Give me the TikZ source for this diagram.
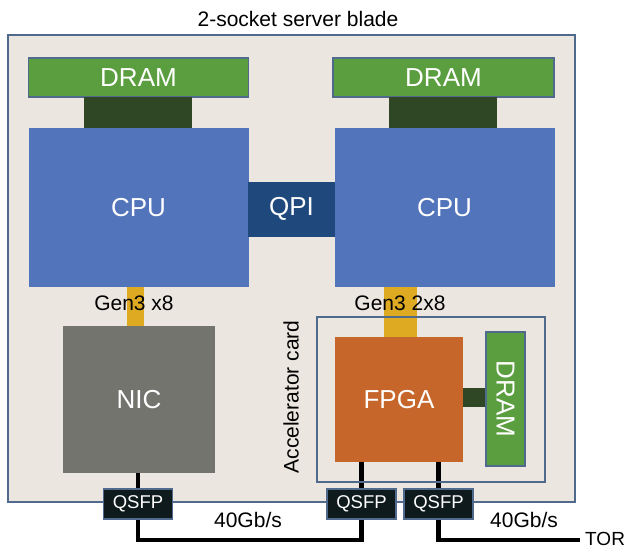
\documentclass[tikz,border=0pt]{standalone}
\usepackage{fontspec}
\setmainfont{Liberation Sans}
\definecolor{bladefill}{HTML}{EBE6DF}
\definecolor{slate}{HTML}{4F6A8C}
\definecolor{dramgreen}{HTML}{5B9E40}
\definecolor{darkgreen}{HTML}{2F4725}
\definecolor{cpublue}{HTML}{5274BB}
\definecolor{qpiblue}{HTML}{1F497D}
\definecolor{pcieyellow}{HTML}{DDAA22}
\definecolor{nicgray}{HTML}{74746F}
\definecolor{fpgaorange}{HTML}{C6662A}
\definecolor{qsfpfill}{HTML}{0E1A1C}
\pgfdeclarelayer{bladelayer}
\pgfdeclarelayer{cablelayer}
\pgfsetlayers{bladelayer,cablelayer,main}
\tikzset{
  blk/.style={inner sep=0pt, outer sep=0pt, text=white},
  big/.style={font=\fontsize{26}{30}\selectfont},
  lbl/.style={font=\fontsize{21}{25}\selectfont, text=black, inner sep=0pt},
  dram/.style={blk, big, fill=dramgreen, draw=slate, line width=1.5pt},
  link/.style={blk, fill=darkgreen},
  pcie/.style={blk, fill=pcieyellow},
  qsfp/.style={blk, fill=qsfpfill, draw=slate, line width=1.5pt, minimum width=69pt, minimum height=30pt, font=\fontsize{18.5}{22}\selectfont},
  cable/.style={line width=4.5pt, black},
}
\begin{document}
\begin{tikzpicture}[x=1pt,y=-1pt]
\useasboundingbox (0,0) rectangle (630,549);
% blade
\begin{pgfonlayer}{bladelayer}
\node[draw=slate, fill=bladefill, line width=2pt, inner sep=0pt, minimum width=567pt, minimum height=467pt] (blade) at (291.5,268) {};
\end{pgfonlayer}
\node[lbl] (title) at (298,19) {2-socket server blade};
% DRAM + links
\node[dram, minimum width=220pt, minimum height=39pt] (draml) at (138.5,77.5) {DRAM};
\node[dram, minimum width=221pt, minimum height=39pt] (dramr) at (443.5,77.5) {DRAM};
\node[link, minimum width=108pt, minimum height=31pt] (linkl) at (138,112.5) {};
\node[link, minimum width=108pt, minimum height=31pt] (linkr) at (443,112.5) {};
% CPUs
\node[blk, big, fill=cpublue, minimum width=220pt, minimum height=159pt] (cpul) at (138.5,207.5) {CPU};
\node[blk, big, fill=cpublue, minimum width=220pt, minimum height=159pt] (cpur) at (444.5,207.5) {CPU};
\node[blk, big, fill=qpiblue, minimum width=87pt, minimum height=55pt] (qpi) at (291.5,209) {QPI};
% PCIe
\node[pcie, minimum width=17pt, minimum height=39pt] (pciel) at (135.5,306.5) {};
\node[pcie, minimum width=33pt, minimum height=50pt] (pcier) at (400.5,312) {};
\node[lbl] (gen3l) at (134,303) {Gen3 x8};
\node[lbl] (gen3r) at (400,303) {Gen3 2x8};
% NIC
\node[blk, big, fill=nicgray, minimum width=152pt, minimum height=147pt] (nic) at (139,399.5) {NIC};
% accelerator card
\node[draw=slate, line width=2pt, inner sep=0pt, minimum width=228pt, minimum height=165pt] (acc) at (431,399.5) {};
\node[lbl, rotate=90] (acclbl) at (291,397) {Accelerator card};
\node[blk, big, fill=fpgaorange, minimum width=128pt, minimum height=125pt] (fpga) at (399,399.5) {FPGA};
\node[link, minimum width=24pt, minimum height=19pt] (linkf) at (475,397.5) {};
\node[dram, rotate=-90, minimum width=134pt, minimum height=39pt] (dramf) at (505.5,399) {DRAM};
% QSFP modules and cables
\coordinate (tor) at (580,540);
\node[qsfp] (q1) at (138,504) {QSFP};
\node[qsfp] (q2) at (361.5,504) {QSFP};
\node[qsfp] (q3) at (438.5,504) {QSFP};
\begin{pgfonlayer}{cablelayer}
\draw[cable] (nic.south -| q1.north) -- (q1.north);
\draw[cable] (fpga.south -| q2.north) -- (q2.north);
\draw[cable] (fpga.south -| q3.north) -- (q3.north);
\draw[cable] (q1.south) |- (q2.south |- tor) -- (q2.south);
\draw[cable] (q3.south) |- (tor);
\end{pgfonlayer}
\node[lbl, anchor=west, font=\fontsize{19}{23}\selectfont] (torlbl) at ([xshift=5pt,yshift=1pt]tor) {TOR};
\node[lbl] (bw1) at (248,520) {40Gb/s};
\node[lbl] (bw2) at (524,520) {40Gb/s};
\end{tikzpicture}
\end{document}
